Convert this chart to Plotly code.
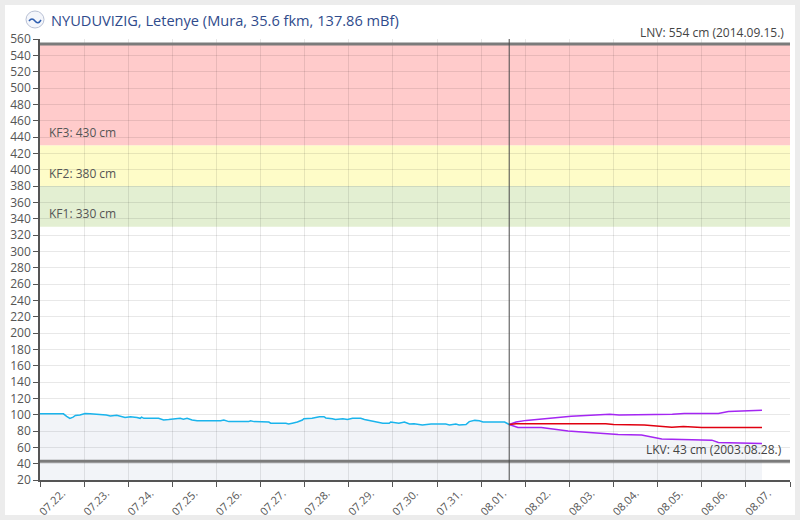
import plotly.graph_objects as go

# ---------------- data ----------------
obs_time = [
    "2025-07-22 00:00", "2025-07-22 12:45", "2025-07-22 14:30", "2025-07-22 16:15", "2025-07-22 18:00",
    "2025-07-22 19:15", "2025-07-22 21:45", "2025-07-23 00:30", "2025-07-23 03:15", "2025-07-23 08:00",
    "2025-07-23 12:00", "2025-07-23 14:15", "2025-07-23 17:45", "2025-07-23 22:15", "2025-07-24 01:15",
    "2025-07-24 04:45", "2025-07-24 06:30", "2025-07-24 07:15", "2025-07-24 08:30", "2025-07-24 16:30",
    "2025-07-24 19:15", "2025-07-24 22:00", "2025-07-25 02:30", "2025-07-25 04:15", "2025-07-25 06:00",
    "2025-07-25 08:00", "2025-07-25 10:45", "2025-07-25 13:30", "2025-07-26 02:15", "2025-07-26 04:00",
    "2025-07-26 06:45", "2025-07-26 17:30", "2025-07-26 18:30", "2025-07-26 20:30", "2025-07-27 04:30",
    "2025-07-27 05:30", "2025-07-27 13:45", "2025-07-27 15:15", "2025-07-27 17:15", "2025-07-27 20:00",
    "2025-07-27 22:45", "2025-07-27 23:30", "2025-07-28 04:00", "2025-07-28 08:00", "2025-07-28 10:30",
    "2025-07-28 11:30", "2025-07-28 15:00", "2025-07-28 16:45", "2025-07-28 20:45", "2025-07-28 23:15",
    "2025-07-29 02:00", "2025-07-29 06:30", "2025-07-29 08:30", "2025-07-29 12:00", "2025-07-29 18:30",
    "2025-07-29 22:00", "2025-07-29 22:45", "2025-07-30 03:15", "2025-07-30 06:15", "2025-07-30 09:00",
    "2025-07-30 11:30", "2025-07-30 16:00", "2025-07-30 20:45", "2025-07-31 04:45", "2025-07-31 06:45",
    "2025-07-31 10:15", "2025-07-31 12:00", "2025-07-31 15:45", "2025-07-31 17:30", "2025-07-31 20:30",
    "2025-07-31 23:00", "2025-08-01 01:00", "2025-08-01 12:45", "2025-08-01 15:15",
]
obs_level = [
    101, 101, 98, 95.5, 97,
    99, 99.5, 101.5, 101, 100.5,
    99.5, 98.5, 99.3, 96.5, 97.5,
    96.5, 95.5, 97, 95.5, 95.5,
    93.5, 94, 94.5, 95.5, 94.5,
    95.5, 93.5, 92.5, 92.5, 93.5,
    91.5, 91.5, 92.5, 91.5, 91,
    89.5, 89.5, 88.5, 89.5, 91,
    93.5, 95, 95.5, 97.5, 97.5,
    96, 95, 94, 95, 94,
    95.5, 95.5, 94, 92.5, 89.5,
    89.5, 91, 89.5, 91, 88.5,
    89, 87.5, 88.5, 88.5, 87.5,
    88.5, 87.5, 88, 91.5, 93,
    92.5, 91, 91, 88,
]

fc_mid_time = ["2025-08-01 15:15", "2025-08-01 19:00", "2025-08-03 19:45", "2025-08-04 00:00",
               "2025-08-04 16:45", "2025-08-05 07:45", "2025-08-05 14:00", "2025-08-06 00:00",
               "2025-08-07 08:45"]
fc_mid_level = [88, 89, 89, 88, 87.5, 84.5, 85.5, 84.3, 84.3]

fc_high_time = ["2025-08-01 15:15", "2025-08-01 19:00", "2025-08-02 00:30", "2025-08-03 01:00",
                "2025-08-03 22:00", "2025-08-04 03:00", "2025-08-05 08:00", "2025-08-05 14:30",
                "2025-08-06 09:00", "2025-08-06 14:30", "2025-08-07 08:45"]
fc_high_level = [88, 91, 93, 98.2, 100.5, 99.5, 100.5, 101.5, 101.5, 104, 105.3]

fc_low_time = ["2025-08-01 15:15", "2025-08-01 20:00", "2025-08-02 08:45", "2025-08-02 23:15",
               "2025-08-04 02:30", "2025-08-04 15:15", "2025-08-05 02:15", "2025-08-05 11:15",
               "2025-08-06 05:30", "2025-08-06 09:00", "2025-08-07 08:45"]
fc_low_level = [88, 84.3, 84.3, 80, 75.7, 75, 70.3, 69.8, 68.8, 65.9, 64.7]

now_time = "2025-08-01 15:15"

band_names = ["KF1: 330 cm", "KF2: 380 cm", "KF3: 430 cm"]
band_from = [330, 380, 430]
band_to = [380, 430, 554]
band_colors = ["#e3efd2", "#fefcc8", "#ffcbcb"]

lnv_value, lnv_label = 554, "LNV: 554 cm (2014.09.15.)"
lkv_value, lkv_label = 43, "LKV: 43 cm (2003.08.28.)"

title_text = "NYUDUVIZIG, Letenye (Mura, 35.6 fkm, 137.86 mBf)"

x_range = ["2025-07-22 00:00", "2025-08-08 00:00"]
y_range = [20, 560]

# ---------------- geometry helpers ----------------
W, H = 800, 520
ML, MR, MT, MB = 40, 10, 39, 40
PW, PH = W - ML - MR, H - MT - MB


def px(xp):
    return (xp - ML) / PW


def py(yp):
    return (H - MB - yp) / PH


FONT = "Open Sans"
fill_col = "rgba(40,60,140,0.06)"

fig = go.Figure()

fig.add_trace(go.Scatter(x=obs_time, y=obs_level, mode="lines", fill="tozeroy",
                         fillcolor=fill_col, line=dict(color="#1ab4ec", width=1.5),
                         hoverinfo="skip", showlegend=False))
fig.add_trace(go.Scatter(x=fc_low_time, y=fc_low_level, mode="lines", fill="tozeroy",
                         fillcolor=fill_col, line=dict(color="#a426f2", width=1.5),
                         hoverinfo="skip", showlegend=False))
fig.add_trace(go.Scatter(x=fc_high_time, y=fc_high_level, mode="lines",
                         line=dict(color="#a426f2", width=1.5),
                         hoverinfo="skip", showlegend=False))
fig.add_trace(go.Scatter(x=fc_mid_time, y=fc_mid_level, mode="lines",
                         line=dict(color="#e00010", width=1.5),
                         hoverinfo="skip", showlegend=False))

shapes = []
# white card
shapes.append(dict(type="rect", xref="paper", yref="paper", x0=px(5), x1=px(795), y0=py(515), y1=py(5),
                   fillcolor="white", line=dict(width=0), layer="below"))
# warning bands
for lo, hi, col in zip(band_from, band_to, band_colors):
    shapes.append(dict(type="rect", xref="paper", yref="y", x0=0, x1=1, y0=lo, y1=hi,
                       fillcolor=col, line=dict(width=0), layer="below"))
# LNV / LKV lines
for v in (lnv_value, lkv_value):
    shapes.append(dict(type="line", xref="paper", yref="y", x0=0, x1=1, y0=v, y1=v,
                       line=dict(color="#7b7b7b", width=3), layer="above"))
# now line
shapes.append(dict(type="line", xref="x", yref="paper", x0=now_time, x1=now_time, y0=0, y1=1,
                   line=dict(color="#4a4a4a", width=1), layer="above"))
# logo
shapes.append(dict(type="circle", xref="paper", yref="paper", x0=px(26), x1=px(44), y0=py(28), y1=py(11),
                   fillcolor="#f4f6fb", line=dict(color="#b8c0d4", width=1)))
shapes.append(dict(type="path", xref="paper", yref="paper",
                   path="M %f %f Q %f %f %f %f Q %f %f %f %f" % (
                       px(29), py(21), px(32), py(17), px(35), py(21), px(38), py(25), px(41), py(20)),
                   line=dict(color="#2f5fb0", width=1.5)))

annotations = []
annotations.append(dict(text=title_text, xref="paper", yref="paper", x=px(49), y=py(20),
                        xanchor="left", yanchor="middle", showarrow=False,
                        font=dict(family=FONT, size=14.6, color="#2f4b8c")))
for name, lo in zip(band_names, band_from):
    annotations.append(dict(text=name, xref="paper", yref="y", x=px(47), y=lo + 3,
                            xanchor="left", yanchor="bottom", showarrow=False,
                            font=dict(family=FONT, size=12, color="#555555")))
annotations.append(dict(text=lnv_label, xref="paper", yref="y", x=px(786), y=lnv_value + 1,
                        xanchor="right", yanchor="bottom", showarrow=False,
                        font=dict(family=FONT, size=12, color="#444444")))
annotations.append(dict(text=lkv_label, xref="paper", yref="y", x=px(784), y=lkv_value + 2,
                        xanchor="right", yanchor="bottom", showarrow=False,
                        font=dict(family=FONT, size=12, color="#444444")))

fig.update_layout(
    width=W, height=H,
    margin=dict(l=ML, r=MR, t=MT, b=MB, autoexpand=False),
    paper_bgcolor="#ececec",
    plot_bgcolor="white",
    shapes=shapes,
    annotations=annotations,
    showlegend=False,
    font=dict(family=FONT, size=12, color="#555555"),
)
fig.update_xaxes(
    type="date", range=x_range, dtick=86400000, tick0="2025-07-22",
    ticklabelmode="period", tickformat="%m.%d.", tickangle=-45,
    ticks="outside", ticklen=5, tickcolor="#555555",
    ticklabelstandoff=-4,
    showgrid=True, gridcolor="rgba(0,0,0,0.09)", gridwidth=1,
    showline=True, linecolor="#555555", linewidth=1.5,
    tickfont=dict(family=FONT, size=11, color="#555555"),
    zeroline=False, fixedrange=True, automargin=False,
)
fig.update_yaxes(
    range=y_range, dtick=20, tick0=20,
    ticks="outside", ticklen=5, tickcolor="#555555",
    showgrid=True, gridcolor="rgba(0,0,0,0.09)", gridwidth=1,
    showline=True, linecolor="#555555", linewidth=1.5,
    tickfont=dict(family=FONT, size=12, color="#555555"),
    zeroline=False, fixedrange=True, automargin=False,
)

fig.write_html("out.html", config={"displayModeBar": False},
               post_script="document.body.style.margin='0';document.body.style.background='#ececec';")
